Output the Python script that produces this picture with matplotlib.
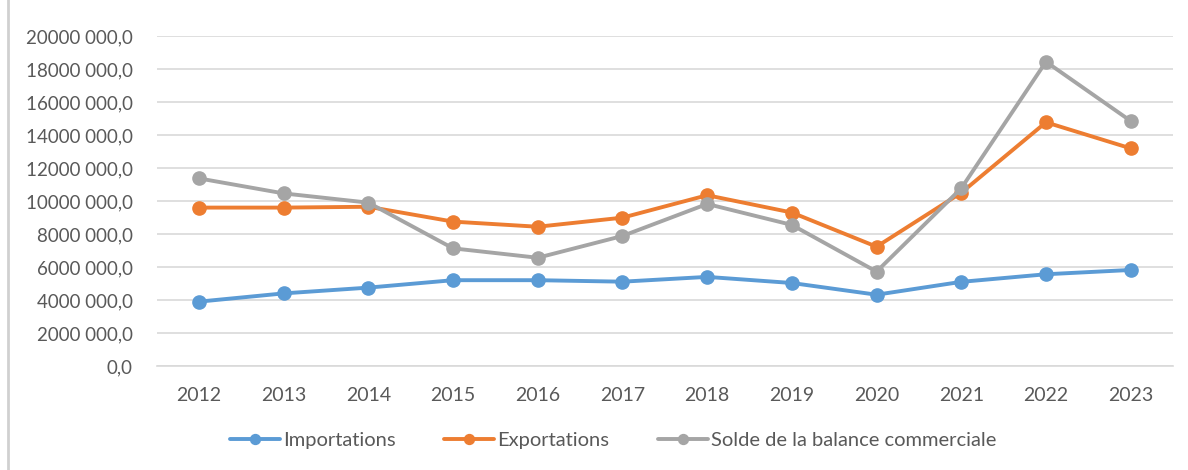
import matplotlib.pyplot as plt
from matplotlib.lines import Line2D
from matplotlib.ticker import FuncFormatter, MultipleLocator

years = ["2012", "2013", "2014", "2015", "2016", "2017",
         "2018", "2019", "2020", "2021", "2022", "2023"]
importations = [3900000, 4400000, 4750000, 5200000, 5200000, 5110000,
                5400000, 5030000, 4320000, 5100000, 5560000, 5820000]
exportations = [9600000, 9600000, 9650000, 8750000, 8440000, 8990000,
                10350000, 9300000, 7230000, 10500000, 14770000, 13190000]
solde = [11370000, 10460000, 9900000, 7130000, 6560000, 7880000,
         9820000, 8550000, 5720000, 10770000, 18440000, 14850000]

series = [
    ("Importations", importations, "#5B9BD5"),
    ("Exportations", exportations, "#ED7D31"),
    ("Solde de la balance commerciale", solde, "#A5A5A5"),
]

TEXT = "#595959"
plt.rcParams["font.family"] = ["Lato", "DejaVu Sans"]


def fr_fmt(v, pos):
    v = int(round(v))
    if v == 0:
        return "0,0"
    return f"{v // 1000} {v % 1000:03d},0"


fig = plt.figure(figsize=(11.88, 4.7), dpi=100)
ax = fig.add_axes([0.1318, 0.2213, 0.8556, 0.7021])

x = range(len(years))
for name, vals, color in series:
    ax.plot(x, vals, color=color, lw=2.8, marker="o", markersize=9.5,
            label=name, solid_capstyle="round")

ax.set_xlim(-0.5, len(years) - 0.5)
ax.set_ylim(0, 20000000)
ax.yaxis.set_major_locator(MultipleLocator(2000000))
ax.yaxis.set_major_formatter(FuncFormatter(fr_fmt))
ax.set_xticks(list(x))
ax.set_xticklabels(years)

ax.grid(axis="y", color="#D9D9D9", lw=1.2)
ax.set_axisbelow(True)
for s in ["top", "right", "left"]:
    ax.spines[s].set_visible(False)
ax.spines["bottom"].set_color("#D9D9D9")
ax.spines["bottom"].set_linewidth(1.2)
ax.tick_params(axis="both", length=0, labelcolor=TEXT)
ax.tick_params(axis="y", pad=17, labelsize=13.5)
ax.tick_params(axis="x", pad=15, labelsize=14)

leg = ax.legend(loc="center", bbox_to_anchor=(0.449, -0.226), ncol=3,
                frameon=False, fontsize=14.5, handlelength=2.5,
                handletextpad=0.15, columnspacing=2.4, markerscale=0.75)
for t in leg.get_texts():
    t.set_color(TEXT)

# thin frame line at the left edge
fig.add_artist(Line2D([0.007, 0.007], [0.0, 1.0], color="#D0D0D0", lw=2,
                      transform=fig.transFigure))

fig.savefig("out.png", dpi=100)
